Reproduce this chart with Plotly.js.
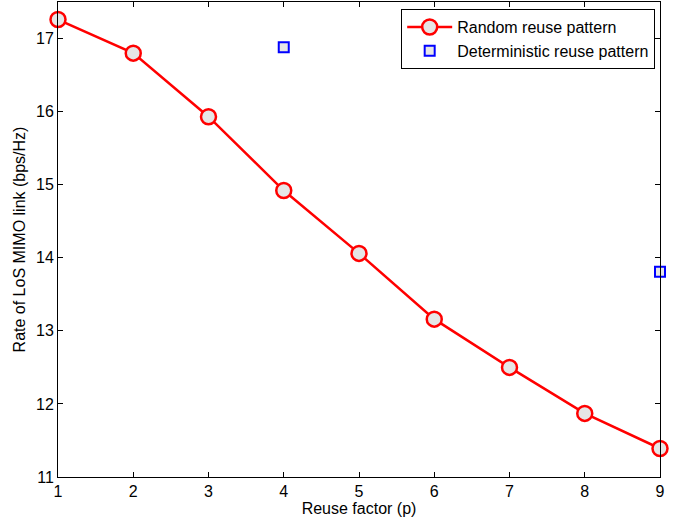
<!DOCTYPE html>
<html><head><meta charset="utf-8">
<script src="https://cdn.plot.ly/plotly-3.0.1.min.js"></script>
<style>html,body{margin:0;padding:0;background:#fff}</style>
</head><body>
<div id="chart" style="width:681px;height:523px"></div>
<script>
const reuseFactor = [1, 2, 3, 4, 5, 6, 7, 8, 9];
const randomRate = [17.26, 16.80, 15.93, 14.92, 14.06, 13.16, 12.50, 11.87, 11.39];
const detFactor = [4, 9];
const detRate = [16.88, 13.81];
const xTicks = [1, 2, 3, 4, 5, 6, 7, 8, 9];
const yTicks = [11, 12, 13, 14, 15, 16, 17];

const font = "Liberation Sans, Arial, Helvetica, sans-serif";
const traces = [
  {x: reuseFactor, y: randomRate, type: 'scatter', mode: 'lines+markers',
   name: 'Random reuse pattern',
   line: {color: '#ff0000', width: 2.5},
   marker: {symbol: 'circle', size: 15, color: '#e6e6e6', line: {color: '#ff0000', width: 2.5}},
   cliponaxis: false},
  {x: detFactor, y: detRate, type: 'scatter', mode: 'markers',
   name: 'Deterministic reuse pattern',
   marker: {symbol: 'square', size: 10, color: '#e6e6e6', line: {color: '#0000ff', width: 2}},
   cliponaxis: false}
];
const layout = {
  width: 681, height: 523,
  margin: {l: 58, r: 21, t: 2, b: 46},
  paper_bgcolor: '#fff', plot_bgcolor: '#fff',
  font: {family: font, size: 16, color: '#000'},
  showlegend: true,
  legend: {x: 0.992, y: 0.985, xanchor: 'right', yanchor: 'top',
    bgcolor: '#fff', bordercolor: '#000', borderwidth: 1, itemwidth: 45,
    font: {family: font, size: 16, color: '#000'}, tracegroupgap: 0},
  xaxis: {range: [1, 9], tickvals: xTicks, ticktext: xTicks.map(String),
    ticks: 'inside', ticklen: 5, tickcolor: '#000', showline: true, linecolor: '#000', linewidth: 1,
    mirror: 'ticks', showgrid: false, zeroline: false,
    tickfont: {family: font, size: 16},
    title: {text: 'Reuse factor (p)', font: {family: font, size: 16}, standoff: 3}},
  yaxis: {range: [11, 17.5], tickvals: yTicks, ticktext: yTicks.map(String),
    ticks: 'inside', ticklen: 5, tickcolor: '#000', showline: true, linecolor: '#000', linewidth: 1,
    mirror: 'ticks', showgrid: false, zeroline: false,
    tickfont: {family: font, size: 16},
    title: {text: 'Rate of LoS MIMO link (bps/Hz)', font: {family: font, size: 16}, standoff: 6}}
};
Plotly.newPlot('chart', traces, layout, {displayModeBar: false, staticPlot: true});
</script>
</body></html>
